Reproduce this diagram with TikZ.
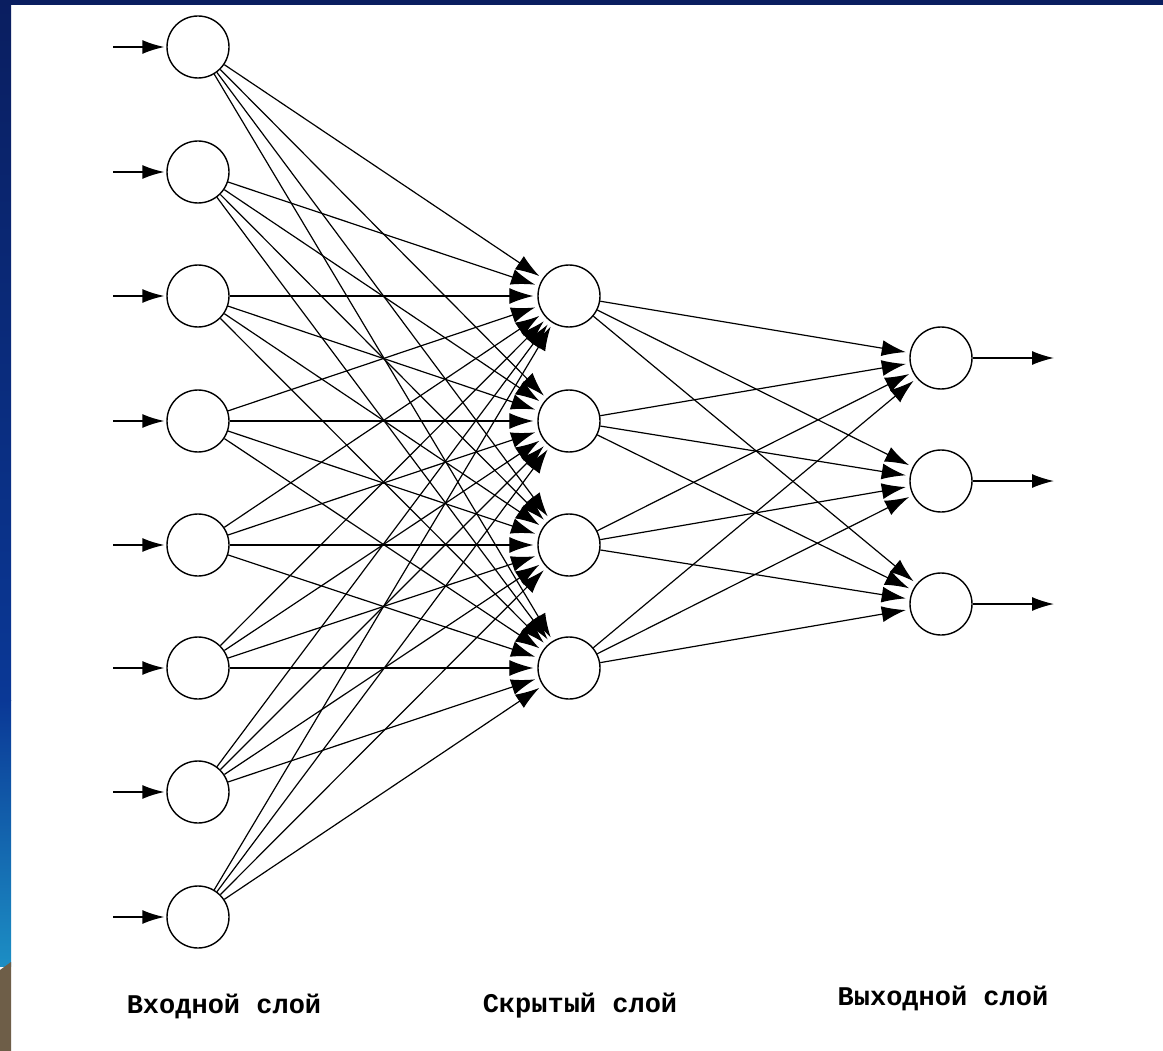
\documentclass[tikz,border=0pt]{standalone}
\usepackage{fontspec}
\setmainfont{Liberation Mono}
\usetikzlibrary{arrows.meta}
\definecolor{navytop}{RGB}{10,30,96}
\definecolor{navymid}{RGB}{10,56,150}
\definecolor{lightblue}{RGB}{28,142,196}
\definecolor{brownbar}{RGB}{110,94,72}
\begin{document}
\begin{tikzpicture}[x=1pt,y=-1pt,
  neuron/.style={circle,draw,line width=1.4pt,minimum size=62pt,inner sep=0pt},
  conn/.style={line width=1.2pt,-{Latex[length=24pt,width=16pt]},shorten >=4pt},
  inarr/.style={line width=1.5pt,-{Latex[length=22pt,width=14pt]},shorten >=2pt},
  lbl/.style={font=\fontsize{27}{30}\selectfont\bfseries}]
\useasboundingbox (0,0) rectangle (1163,1051);
\fill[white] (0,0) rectangle (1163,1051);
% border strips
\shade[top color=navytop,bottom color=navymid] (0,0) rectangle (11,700);
\shade[top color=navymid,bottom color=lightblue] (0,700) rectangle (11,966);
\fill[brownbar] (0,970) -- (11,962) -- (11,1051) -- (0,1051) -- cycle;
\fill[navytop] (0,0) rectangle (1163,5);
% input layer
\foreach \k/\y in {1/47,2/172,3/296,4/421,5/545,6/668,7/792,8/917}{
  \node[neuron] (i\k) at (198,\y) {};
  \coordinate (a\k) at (113,\y);
  \draw[inarr] (a\k) -- (i\k);
}
% hidden layer
\foreach \k/\y in {1/296,2/421,3/545,4/668}{
  \node[neuron] (h\k) at (569,\y) {};
}
% output layer
\foreach \k/\y in {1/358,2/481,3/604}{
  \node[neuron] (o\k) at (941,\y) {};
  \coordinate (b\k) at (1056,\y);
  \draw[inarr] (o\k) -- (b\k);
}
% connections
\foreach \i in {1,...,8}{
  \foreach \h in {1,...,4}{
    \draw[conn] (i\i) -- (h\h);
  }
}
\foreach \h in {1,...,4}{
  \foreach \o in {1,...,3}{
    \draw[conn] (h\h) -- (o\o);
  }
}
% labels
\node[lbl] (l1) at (224,1006) {Входной слой};
\node[lbl] (l2) at (580,1006) {Скрытый слой};
\node[lbl] (l3) at (943,998) {Выходной слой};
\end{tikzpicture}
\end{document}
